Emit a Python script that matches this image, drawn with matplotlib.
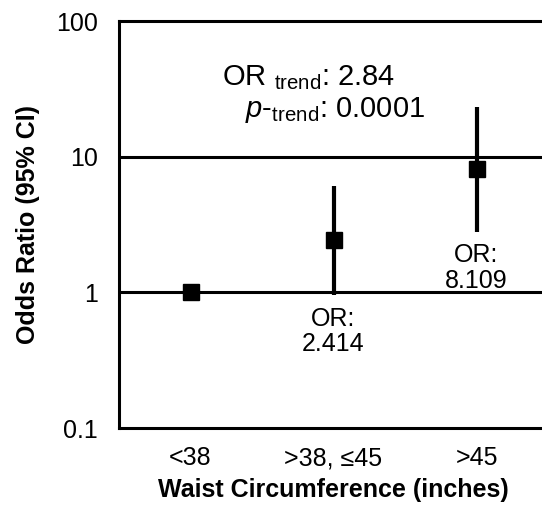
import numpy as np
import matplotlib.pyplot as plt

plt.rcParams['font.family'] = ['Liberation Sans', 'DejaVu Sans']
plt.rcParams['mathtext.fontset'] = 'custom'
plt.rcParams['mathtext.rm'] = 'Liberation Sans'
plt.rcParams['mathtext.it'] = 'Liberation Sans:italic'

categories = ['<38', '>38, \u226445', '>45']
odds_ratio = [1.0, 2.414, 8.109]
ci_low = [1.0, 0.95, 2.8]
ci_high = [1.0, 6.1, 23.3]
or_labels = [None, 'OR:\n2.414', 'OR:\n8.109']

fig = plt.figure(figsize=(5.42, 5.09), dpi=100)
ax = fig.add_axes([0.2196, 0.159, 0.7915, 0.7997])

x = np.arange(len(categories))
for yv in [1, 10]:
    ax.axhline(yv, color='black', lw=2.2, zorder=1)

yerr = [np.array(odds_ratio) - np.array(ci_low), np.array(ci_high) - np.array(odds_ratio)]
ax.errorbar(x, odds_ratio, yerr=yerr, fmt='s', color='black', ms=12,
            elinewidth=3, capsize=0, zorder=3)

for xi, lo, lab in zip(x, ci_low, or_labels):
    if lab:
        ax.annotate(lab, (xi, lo), xytext=(0, -8), textcoords='offset points',
                    ha='center', va='top', fontsize=18, multialignment='center',
                    linespacing=1.1)

ax.text(0.240, 0.86, r'OR $_{\mathrm{trend}}$: 2.84', transform=ax.transAxes,
        fontsize=21, va='center', ha='left')
ax.text(0.294, 0.781, r'$\it{p}$-$_{\mathrm{trend}}$: 0.0001', transform=ax.transAxes,
        fontsize=21, va='center', ha='left')

ax.set_yscale('log')
ax.set_ylim(0.1, 100)
ax.set_xlim(-0.5, 2.5)
ax.set_yticks([0.1, 1, 10, 100])
ax.set_yticklabels(['0.1', '1', '10', '100'])
ax.minorticks_off()
ax.set_xticks(x)
ax.set_xticklabels(categories)
ax.tick_params(length=0, labelsize=18, pad=13)
ax.tick_params(axis='y', pad=15)

for s in ax.spines.values():
    s.set_linewidth(2.2)
ax.spines['right'].set_visible(False)

ax.set_xlabel('Waist Circumference (inches)', fontsize=18, fontweight='bold', labelpad=6)
ax.set_ylabel('Odds Ratio (95% CI)', fontsize=18, fontweight='bold', labelpad=12)

fig.savefig('out.png', dpi=100)
